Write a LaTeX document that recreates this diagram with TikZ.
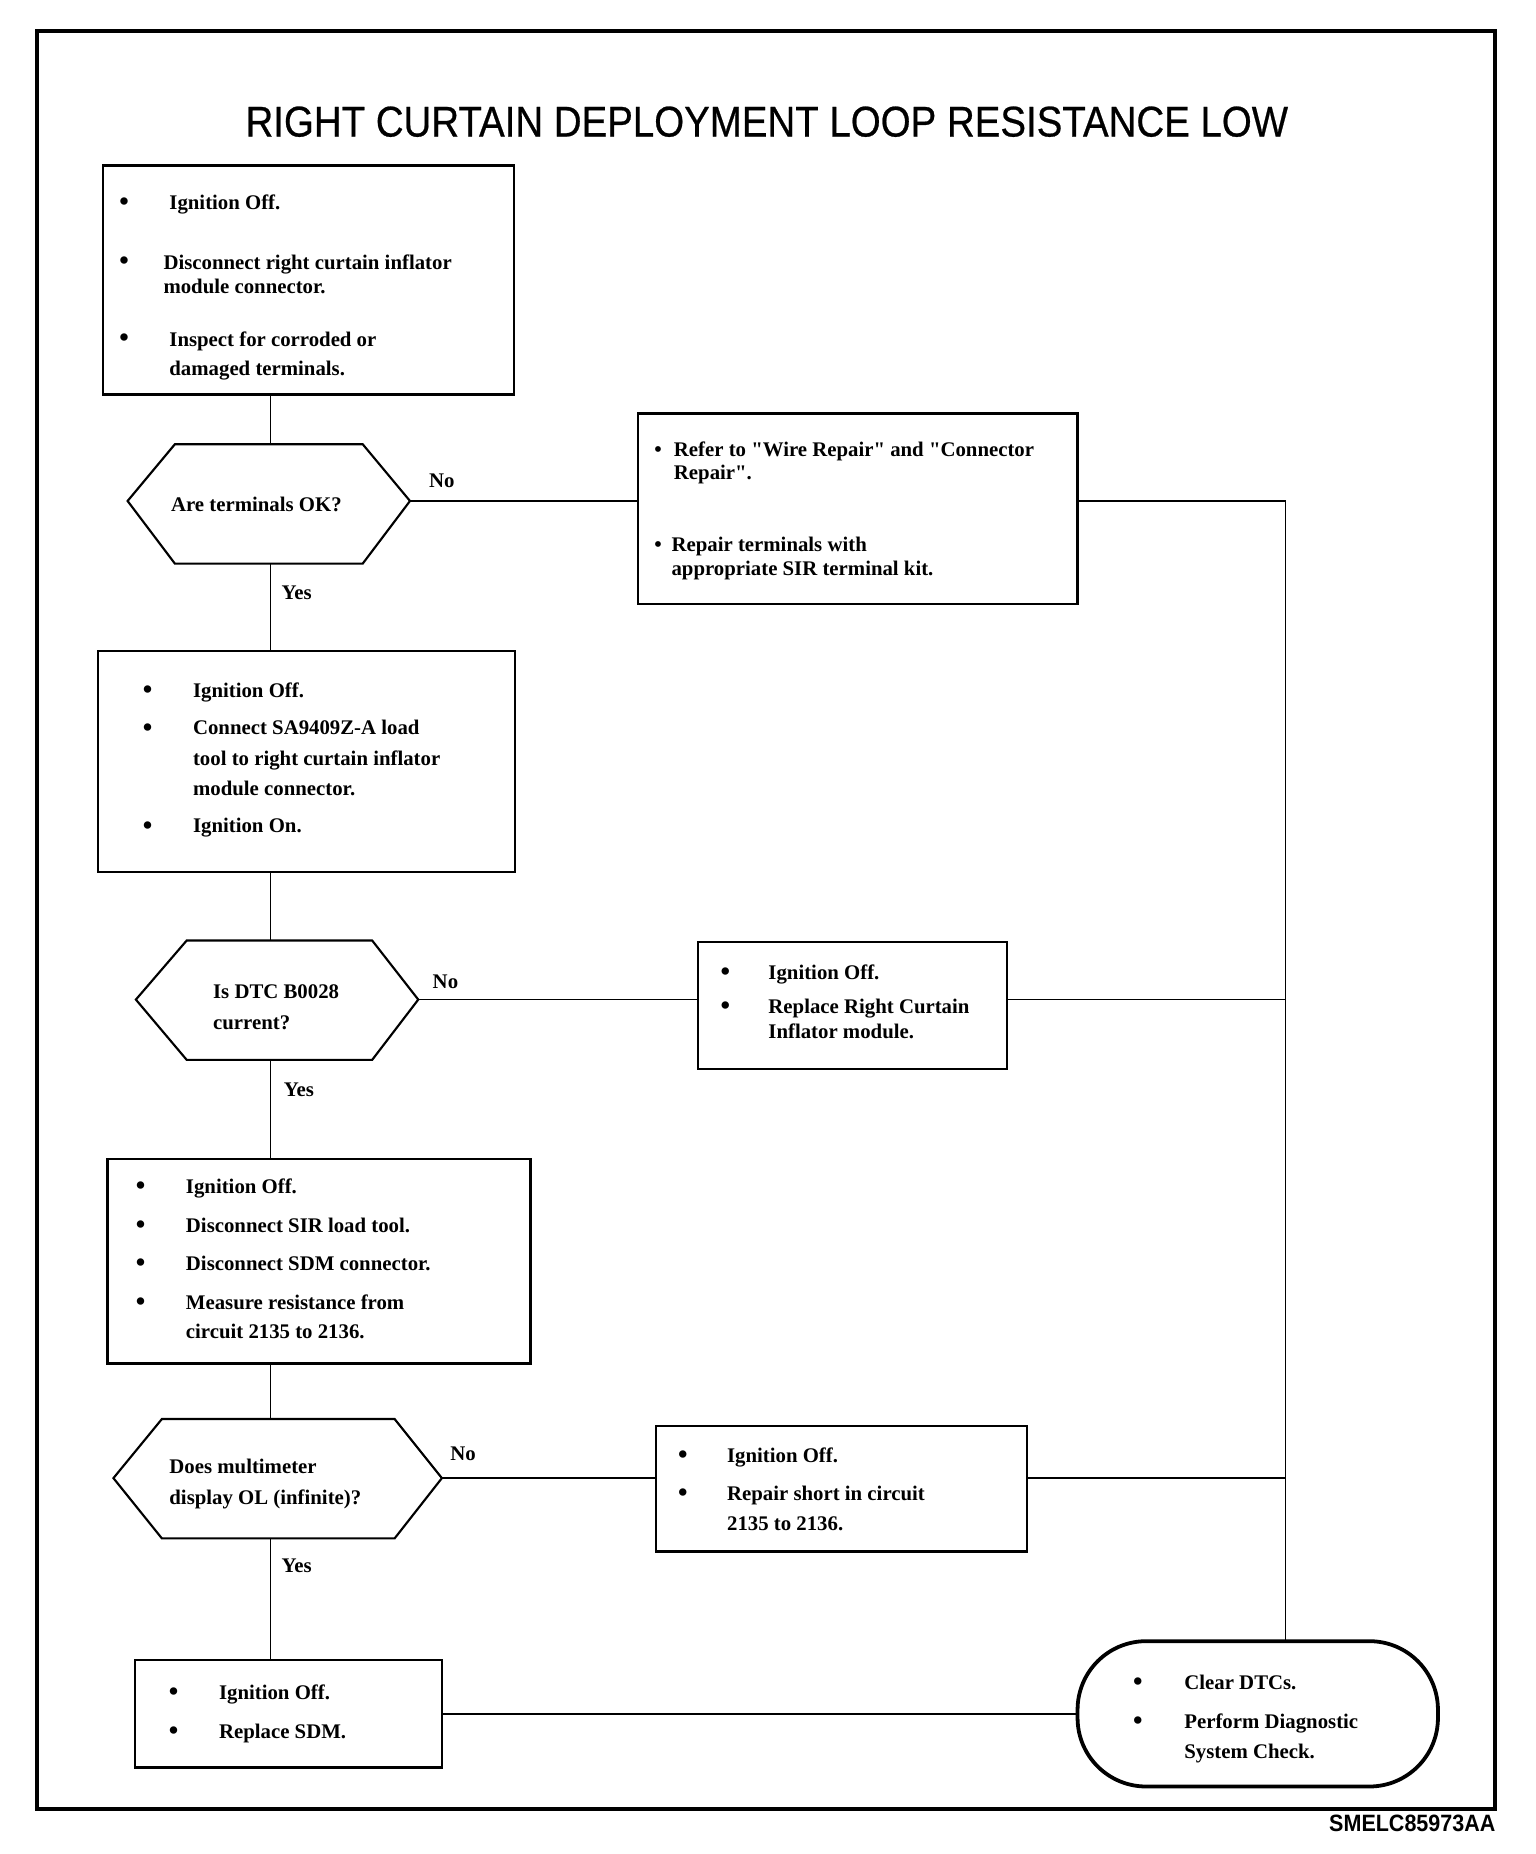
\documentclass[tikz,border=0pt]{standalone}
\usepackage{fontspec}
\setmainfont{Liberation Serif}
\newfontfamily\sansfam{Liberation Sans}
\newfontfamily\titlefam[FakeBold=0.6]{Liberation Sans}
\usetikzlibrary{calc}
\tikzset{
  fbox/.style={draw, line width=1pt, inner sep=0pt, rectangle},
  ovalbox/.style={draw, line width=1.6pt, inner sep=0pt, rectangle, rounded corners=29pt},
  txt/.style={anchor=base west, inner sep=0pt, font=\fontsize{8.8}{10}\selectfont\bfseries},
  bul/.style={anchor=base, inner sep=0pt, font=\fontsize{11.5}{12}\selectfont\bfseries},
  lbl/.style={anchor=base, inner sep=0pt, font=\fontsize{8.8}{10}\selectfont\bfseries},
  conn/.style={line width=0.7pt},
  hexa/.style={draw, line width=0.9pt, line join=miter},
  frame/.style={draw, line width=1.6pt}
}
\newcommand\boxat[6]{\node[#6, minimum width={(#4-#2)*0.5pt}, minimum height={(#5-#3)*0.5pt}] (#1) at ({(#2+#4)/2},{(#3+#5)/2}) {};}
\newcommand\sq{\XeTeXglyph\numexpr\XeTeXcharglyph"22\relax}
\begin{document}
\begin{tikzpicture}[x=0.5pt, y=-0.5pt]
\useasboundingbox (0,0) rectangle (1300,1569.14);
% outer frame
\boxat{frm}{31}{26}{1265}{1531}{frame}
% title
\node[inner sep=0pt, font=\titlefam\fontsize{18.2}{20}\selectfont] (title) at (649,103) {\scalebox{0.894}[1]{RIGHT CURTAIN DEPLOYMENT LOOP RESISTANCE LOW}};
% boxes
\boxat{b1}{87}{140}{435}{334}{fbox}
\boxat{r1}{540}{350}{912}{511}{fbox}
\boxat{b2}{83}{551}{436}{738}{fbox}
\boxat{r2}{591}{797}{852}{905}{fbox}
\boxat{b3}{91}{981}{449}{1154}{fbox}
\boxat{r3}{555}{1207}{869}{1313}{fbox}
\boxat{b4}{114}{1405}{374}{1496}{fbox}
\boxat{ov}{912}{1389}{1217}{1512}{ovalbox}
% hexagons
\coordinate (h1w) at (108,424); \coordinate (h1e) at (347,424);
\coordinate (h1n) at (229,376); \coordinate (h1s) at (229,477);
\draw[hexa] (h1w) -- (148,376) -- (307,376) -- (h1e) -- (307,477) -- (148,477) -- cycle;
\coordinate (h2w) at (115,846); \coordinate (h2e) at (354,846);
\coordinate (h2n) at (229,796); \coordinate (h2s) at (229,897);
\draw[hexa] (h2w) -- (158,796) -- (315,796) -- (h2e) -- (315,897) -- (158,897) -- cycle;
\coordinate (h3w) at (96,1251); \coordinate (h3e) at (374,1251);
\coordinate (h3n) at (229,1201); \coordinate (h3s) at (229,1302);
\draw[hexa] (h3w) -- (137,1201) -- (334,1201) -- (h3e) -- (334,1302) -- (137,1302) -- cycle;
\coordinate (bus) at (1088,1389);
% connectors
\draw[conn] (b1.south -| h1n) -- (h1n);
\draw[conn] (h1s) -- (b2.north -| h1s);
\draw[conn] (b2.south -| h2n) -- (h2n);
\draw[conn] (h2s) -- (b3.north -| h2s);
\draw[conn] (b3.south -| h3n) -- (h3n);
\draw[conn] (h3s) -- (b4.north -| h3s);
\draw[conn] (h1e) -- (h1e -| r1.west);
\draw[conn] (h2e) -- (h2e -| r2.west);
\draw[conn] (h3e) -- (h3e -| r3.west);
\draw[conn] (h1e -| r1.east) -- (h1e -| bus) -- (bus);
\draw[conn] (h2e -| r2.east) -- (h2e -| bus);
\draw[conn] (h3e -| r3.east) -- (h3e -| bus);
\draw[conn] (b4.east) -- (b4.east -| ov.west);
% labels
\node[lbl] (no1) at (374,413) {No};
\node[lbl] (no2) at (377,837) {No};
\node[lbl] (no3) at (392,1236) {No};
\node[lbl] (yes1) at (251,507) {Yes};
\node[lbl] (yes2) at (253,928) {Yes};
\node[lbl] (yes3) at (251,1331) {Yes};
% hexagon texts
\node[lbl] (q1) at (217,433) {Are terminals OK?};
\node[txt] (q2a) at (180,845) {Is DTC B0028};
\node[txt] (q2b) at (180,871) {current?};
\node[txt] (q3a) at (143,1247) {Does multimeter};
\node[txt] (q3b) at (143,1273) {display OL (infinite)?};
% box 1
\node[bul] (b1u1) at (105,178) {\textbullet};
\node[bul] (b1u2) at (105,228) {\textbullet};
\node[bul] (b1u3) at (105,293) {\textbullet};
\node[txt] (b1t1) at (143,177) {Ignition Off.};
\node[txt] (b1t2) at (138,228) {Disconnect right curtain inflator};
\node[txt] (b1t3) at (138,248) {module connector.};
\node[txt] (b1t4) at (143,293) {Inspect for corroded or};
\node[txt] (b1t5) at (143,318) {damaged terminals.};
% right box 1
\node[bul, font=\fontsize{9}{10}\selectfont\bfseries] (r1u1) at (557,386) {\textbullet};
\node[bul, font=\fontsize{9}{10}\selectfont\bfseries] (r1u2) at (557,467) {\textbullet};
\node[txt] (r1t1) at (570,386) {Refer to \sq Wire Repair\sq{} and \sq Connector};
\node[txt] (r1t2) at (570,406) {Repair\sq.};
\node[txt] (r1t3) at (568,467) {Repair terminals with};
\node[txt] (r1t4) at (568,487) {appropriate SIR terminal kit.};
% box 2
\node[bul] (b2u1) at (125,591) {\textbullet};
\node[bul] (b2u2) at (125,623) {\textbullet};
\node[bul] (b2u3) at (125,706) {\textbullet};
\node[txt] (b2t1) at (163,590) {Ignition Off.};
\node[txt] (b2t2) at (163,622) {Connect SA9409Z-A load};
\node[txt] (b2t3) at (163,648) {tool to right curtain inflator};
\node[txt] (b2t4) at (163,673) {module connector.};
\node[txt] (b2t5) at (163,705) {Ignition On.};
% right box 2
\node[bul] (r2u1) at (614,830) {\textbullet};
\node[bul] (r2u2) at (614,859) {\textbullet};
\node[txt] (r2t1) at (650,829) {Ignition Off.};
\node[txt] (r2t2) at (650,858) {Replace Right Curtain};
\node[txt] (r2t3) at (650,879) {Inflator module.};
% box 3
\node[bul] (b3u1) at (119,1011) {\textbullet};
\node[bul] (b3u2) at (119,1044) {\textbullet};
\node[bul] (b3u3) at (119,1076) {\textbullet};
\node[bul] (b3u4) at (119,1109) {\textbullet};
\node[txt] (b3t1) at (157,1010) {Ignition Off.};
\node[txt] (b3t2) at (157,1043) {Disconnect SIR load tool.};
\node[txt] (b3t3) at (157,1075) {Disconnect SDM connector.};
\node[txt] (b3t4) at (157,1108) {Measure resistance from};
\node[txt] (b3t5) at (157,1133) {circuit 2135 to 2136.};
% right box 3
\node[bul] (r3u1) at (578,1239) {\textbullet};
\node[bul] (r3u2) at (578,1271) {\textbullet};
\node[txt] (r3t1) at (615,1238) {Ignition Off.};
\node[txt] (r3t2) at (615,1270) {Repair short in circuit};
\node[txt] (r3t3) at (615,1295) {2135 to 2136.};
% box 4
\node[bul] (b4u1) at (147,1439) {\textbullet};
\node[bul] (b4u2) at (147,1472) {\textbullet};
\node[txt] (b4t1) at (185,1438) {Ignition Off.};
\node[txt] (b4t2) at (185,1471) {Replace SDM.};
% oval
\node[bul] (ovu1) at (963,1431) {\textbullet};
\node[bul] (ovu2) at (963,1464) {\textbullet};
\node[txt] (ovt1) at (1002,1430) {Clear DTCs.};
\node[txt] (ovt2) at (1002,1463) {Perform Diagnostic};
\node[txt] (ovt3) at (1002,1488) {System Check.};
% figure id
\node[anchor=base east, inner sep=0pt, font=\sansfam\bfseries\fontsize{10}{12}\selectfont] (figid) at (1266,1550) {\scalebox{0.91}[1]{SMELC85973AA}};
\end{tikzpicture}
\end{document}
